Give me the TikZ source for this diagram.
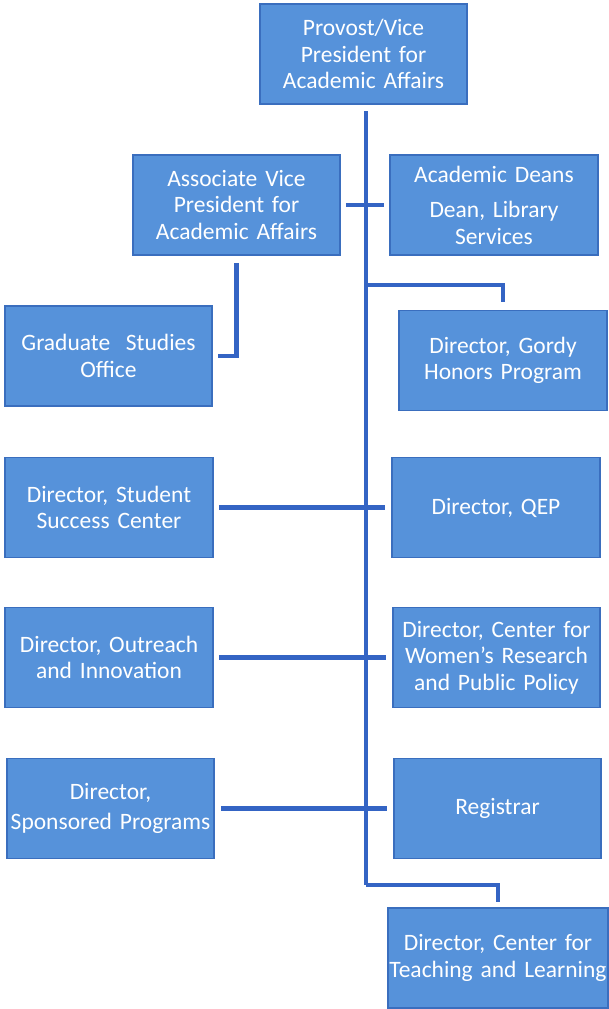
\documentclass[tikz,border=0pt]{standalone}
\usepackage{fontspec}
\setmainfont{Carlito}
\usepackage{xcolor}
\usetikzlibrary{positioning,calc}
\definecolor{boxblue}{RGB}{86,146,218}
\definecolor{boxedge}{RGB}{58,110,190}
\definecolor{linkblue}{RGB}{52,100,196}

\tikzset{
    unit/.style={draw=boxedge, line width=1.5pt, fill=boxblue, text=white,
        minimum height=100pt, inner sep=0pt,
        text width=207pt, align=center,
        font=\fontsize{23.5}{26.5}\selectfont},
    link/.style={draw=linkblue, line width=4.5pt}
}

\begin{document}
\begin{tikzpicture}[x=1pt, y=-1pt]
    \useasboundingbox (0,0) rectangle (609,1009);

    % Boxes
    \node[unit] (provost) at (363.5,54) {Provost/Vice\\President for\\Academic Affairs};
    \node[unit] (avp) at (236.5,205) {Associate Vice\\President for\\Academic Affairs};
    \node[unit, text width=208pt] (deans) at (494,205) {Academic Deans\\[9pt]Dean, Library\\Services};
    \node[unit] (grad) at (108.5,356) {Graduate~~Studies\\Office};
    \node[unit, text width=208pt] (gordy) at (503,360.5) {Director, Gordy\\Honors Program};
    \node[unit, text width=208pt] (ssc) at (109,507.5) {Director, Student\\Success Center};
    \node[unit, text width=208pt] (qep) at (496,507.5) {Director, QEP};
    \node[unit, text width=208pt] (outreach) at (109,657.5) {Director, Outreach\\and Innovation};
    \node[unit] (women) at (496.5,657.5) {Director, Center for\\Women’s Research\\and Public Policy};
    \node[unit] (sponsored) at (110.5,808.5) {Director,\\[3pt]Sponsored Programs};
    \node[unit] (registrar) at (497.5,808.5) {Registrar};
    \node[unit, text width=220pt] (ctl) at (498,958) {Director, Center for\\Teaching and Learning};

    % Trunk
    \coordinate (trunktop) at (366,111);
    \coordinate (trunkbot) at (366,885);
    \coordinate (gordybranch) at (366,285);
    \draw[link] (trunktop) -- (trunkbot);

    % Branches
    \draw[link, shorten <=5pt, shorten >=5pt] (avp.east) -- (deans.west);
    \draw[link, shorten <=7pt, shorten >=5pt] (avp.south) |- (grad.east);
    \draw[link, shorten >=8pt] (gordybranch) -| (gordy.north);
    \draw[link, shorten <=5pt, shorten >=6pt] (ssc.east) -- (qep.west);
    \draw[link, shorten <=5pt, shorten >=6pt] (outreach.east) -- (women.west);
    \draw[link, shorten <=6pt, shorten >=6pt] (sponsored.east) -- (registrar.west);
    \draw[link, shorten >=5pt] (trunkbot) -| (ctl.north);
\end{tikzpicture}
\end{document}
